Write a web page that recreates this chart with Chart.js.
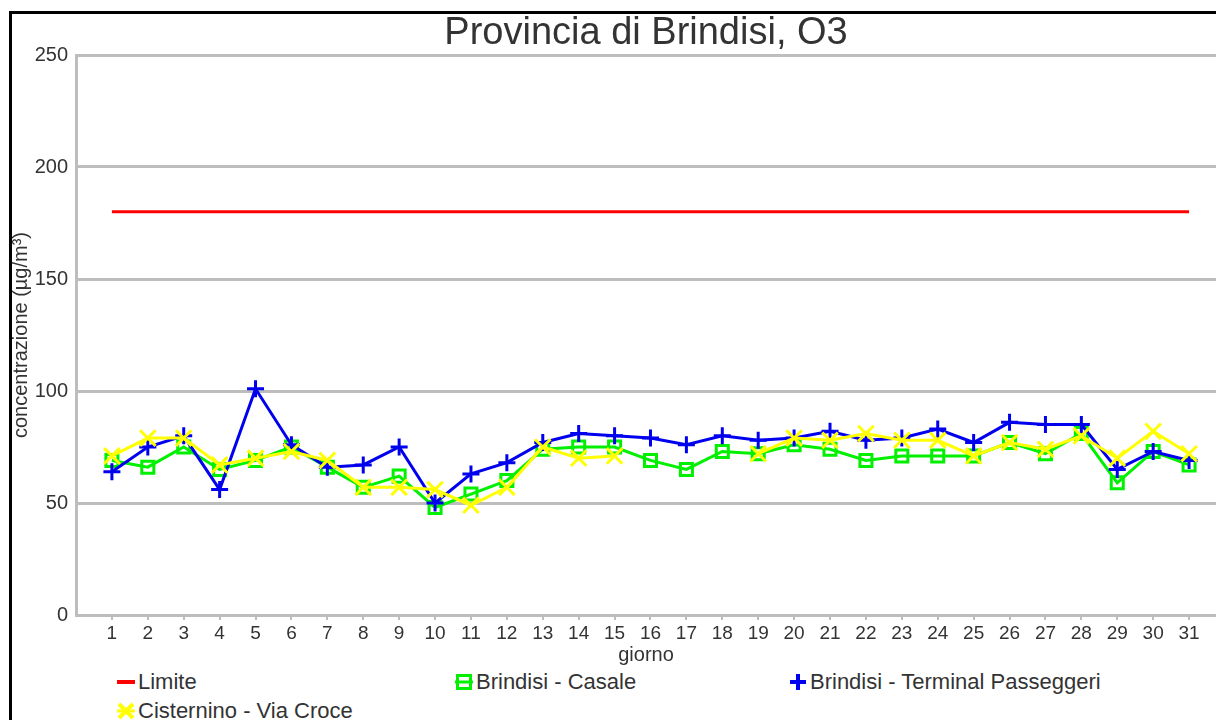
<!DOCTYPE html>
<html>
<head>
<meta charset="utf-8">
<script src="https://cdn.jsdelivr.net/npm/chart.js@4"></script>
<style>
  body { margin: 0; background: #fff; overflow: hidden; font-family: "Liberation Sans", Arial, sans-serif; }
  #frame { position: absolute; left: 9px; top: 11px; right: 0; bottom: 0; border-left: 3px solid #000; border-top: 3px solid #000; }
  #wrap { position: absolute; left: 0; top: 0; width: 1230px; height: 667px; }
  #legend { position: absolute; left: 117px; top: 667px; display: grid; grid-template-columns: 338px 334px 400px; grid-auto-rows: 29px; font-size: 22px; color: #333; }
  #legend .item { display: flex; align-items: center; white-space: nowrap; }
  #legend svg { margin-right: 3px; }
</style>
</head>
<body>
<div id="frame"></div>
<div id="wrap"><canvas id="o3Chart"></canvas></div>
<div id="legend"></div>
<script>
// giorni del mese
const days = [1, 2, 3, 4, 5, 6, 7, 8, 9, 10, 11, 12, 13, 14, 15, 16, 17, 18, 19, 20, 21, 22, 23, 24, 25, 26, 27, 28, 29, 30, 31];
const yTicks = [0, 50, 100, 150, 200, 250];

// valori (µg/m³)
const limite = [180, 180, 180, 180, 180, 180, 180, 180, 180, 180, 180, 180, 180, 180, 180, 180, 180, 180, 180, 180, 180, 180, 180, 180, 180, 180, 180, 180, 180, 180, 180];
const casale = [69, 66, 75, 65, 69, 75, 66, 57, 62, 48, 54, 60, 74, 75, 75, 69, 65, 73, 72, 76, 74, 69, 71, 71, 71, 77, 72, 81, 59, 73, 67];
const terminal = [64, 75, 80, 56, 101, 76, 66, 67, 75, 50, 63, 68, 77, 81, 80, 79, 76, 80, 78, 79, 82, 78, 79, 83, 77, 86, 85, 85, 65, 73, 69];
const cisternino = [71, 79, 79, 67, 70, 73, 69, 57, 57, 56, 49, 57, 75, 70, 71, null, null, null, 72, 79, 78, 81, 78, 78, 71, 77, 74, 80, 70, 82, 72];

const textColor = "#333";
const gridColor = "#bdbdbd";
const fontFamily = "'Liberation Sans', Arial, sans-serif";

const ctx = document.getElementById("o3Chart").getContext("2d");

const chart = new Chart(ctx, {
  type: "line",
  data: {
    labels: days,
    datasets: [
      {
        label: "Limite",
        data: limite,
        borderColor: "#ff0000",
        borderWidth: 3,
        pointRadius: 0,
        order: 3,
        marker: "line"
      },
      {
        label: "Brindisi - Casale",
        data: casale,
        borderColor: "#00f000",
        borderWidth: 3,
        pointStyle: "rect",
        pointRadius: 8.5,
        pointBorderWidth: 3,
        pointBackgroundColor: "rgba(0,0,0,0)",
        order: 2,
        marker: "rect"
      },
      {
        label: "Brindisi - Terminal Passeggeri",
        data: terminal,
        borderColor: "#0000ee",
        borderWidth: 3,
        pointStyle: "cross",
        pointRadius: 8.5,
        pointBorderWidth: 3,
        order: 1,
        marker: "cross"
      },
      {
        label: "Cisternino - Via Croce",
        data: cisternino,
        borderColor: "#ffff00",
        borderWidth: 3,
        pointStyle: "crossRot",
        pointRadius: 11,
        pointBorderWidth: 3,
        spanGaps: false,
        order: 0,
        marker: "star"
      }
    ]
  },
  options: {
    responsive: true,
    maintainAspectRatio: false,
    animation: false,
    layout: { padding: 0 },
    elements: { line: { tension: 0 } },
    plugins: {
      legend: { display: false },
      tooltip: { enabled: false },
      title: {
        display: true,
        text: "Provincia di Brindisi, O3",
        fullSize: false,
        color: textColor,
        font: { family: fontFamily, size: 38, weight: "normal", lineHeight: 1 },
        padding: { top: 15, bottom: 2 }
      }
    },
    scales: {
      x: {
        type: "linear",
        min: 0,
        max: 31.75,
        afterBuildTicks: s => { s.ticks = days.map(d => ({ value: d })); },
        afterFit: s => { s.height = 52; },
        grid: { drawOnChartArea: false, color: gridColor, lineWidth: 2, tickLength: 5 },
        border: { display: true, color: gridColor, width: 3 },
        ticks: { color: textColor, font: { family: fontFamily, size: 19 }, padding: 2, maxRotation: 0, autoSkip: false },
        title: { display: true, text: "giorno", color: textColor, font: { family: fontFamily, size: 20 }, padding: 0 }
      },
      y: {
        min: 0,
        max: 250,
        afterBuildTicks: s => { s.ticks = yTicks.map(v => ({ value: v })); },
        afterFit: s => { s.width = 76; },
        grid: { color: gridColor, lineWidth: 3, drawTicks: false },
        border: { display: true, color: gridColor, width: 3 },
        ticks: { color: textColor, font: { family: fontFamily, size: 20 }, padding: 8 },
        title: { display: true, text: "concentrazione (µg/m³)", color: textColor, font: { family: fontFamily, size: 20 }, padding: { top: 9, bottom: 0 } }
      }
    }
  }
});

// legenda in HTML, a griglia come nell'originale
function markerSvg(ds) {
  const c = ds.borderColor;
  let inner = "";
  if (ds.marker === "line") {
    inner = `<line x1="0" y1="9" x2="18" y2="9" stroke="${c}" stroke-width="4"/>`;
  } else if (ds.marker === "rect") {
    inner = `<rect x="2.5" y="2.5" width="13" height="13" fill="none" stroke="${c}" stroke-width="3"/>` +
            `<line x1="0" y1="9" x2="18" y2="9" stroke="${c}" stroke-width="3"/>`;
  } else if (ds.marker === "cross") {
    inner = `<line x1="1" y1="9" x2="17" y2="9" stroke="${c}" stroke-width="4"/>` +
            `<line x1="9" y1="1" x2="9" y2="17" stroke="${c}" stroke-width="4"/>`;
  } else {
    inner = `<line x1="2" y1="2" x2="16" y2="16" stroke="${c}" stroke-width="4"/>` +
            `<line x1="16" y1="2" x2="2" y2="16" stroke="${c}" stroke-width="4"/>` +
            `<line x1="0" y1="9" x2="18" y2="9" stroke="${c}" stroke-width="3"/>`;
  }
  return `<svg width="18" height="18" viewBox="0 0 18 18">${inner}</svg>`;
}

document.getElementById("legend").innerHTML = chart.data.datasets
  .map(ds => `<div class="item">${markerSvg(ds)}<span>${ds.label}</span></div>`)
  .join("");
</script>
</body>
</html>
